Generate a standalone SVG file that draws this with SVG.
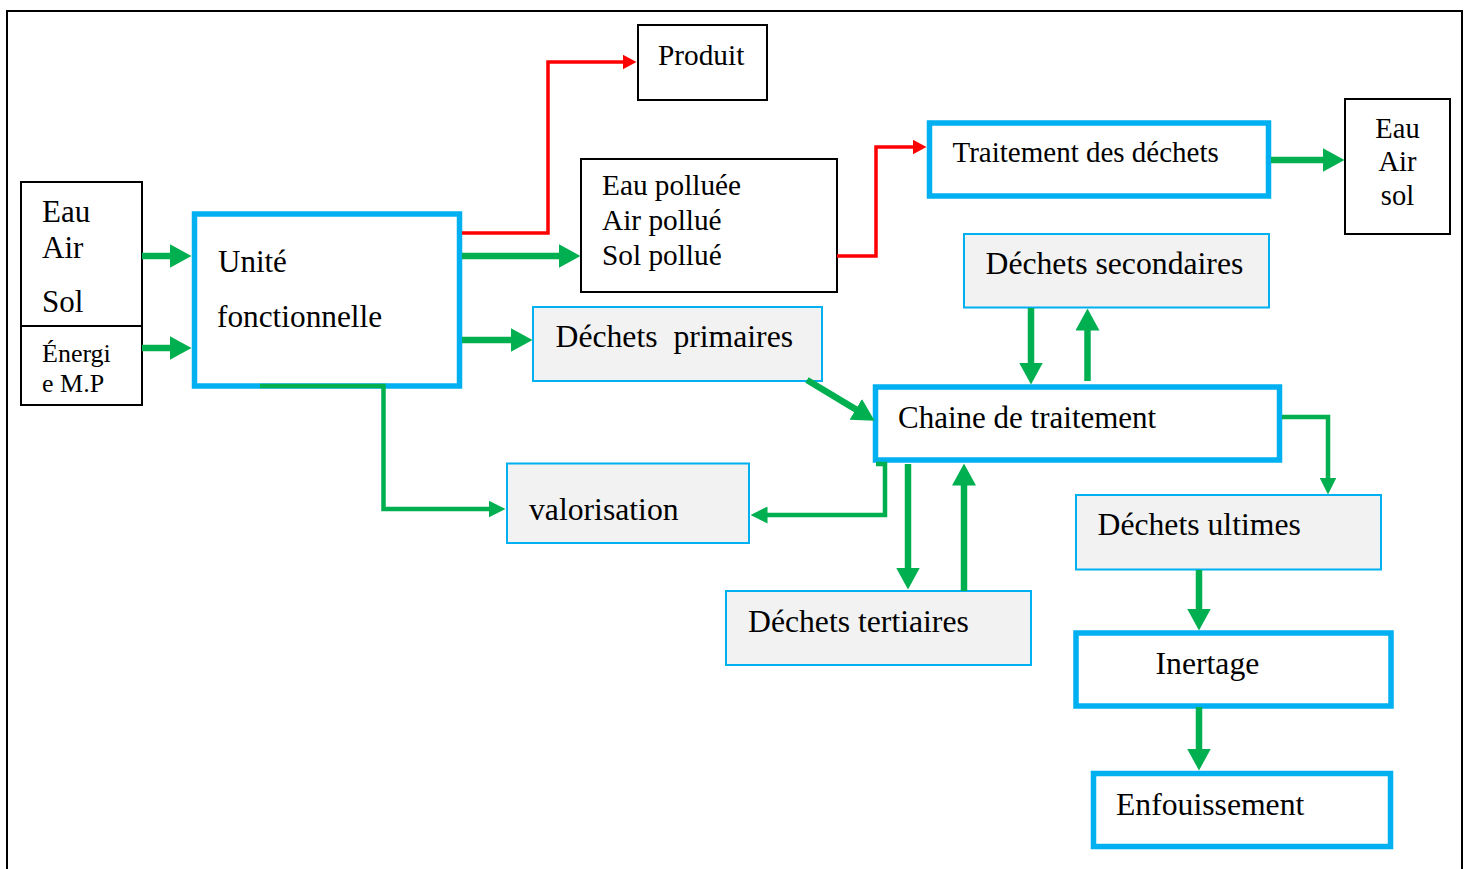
<svg xmlns="http://www.w3.org/2000/svg" width="1470" height="869" viewBox="0 0 1470 869">
  <style>
    text { font-family: "Liberation Serif", "Times New Roman", serif; fill: #000; }
    .t31 { font-size: 31.7px; }
    .t29 { font-size: 29.3px; }
    .t28 { font-size: 29px; }
    .box-black { fill: #fff; stroke: #000; stroke-width: 2; }
    .box-main { fill: #fff; stroke: #00B0F0; stroke-width: 5.5; }
    .box-grey { fill: #F2F2F2; stroke: #00B0F0; stroke-width: 2; }
    .flow { fill: none; stroke: #00B050; stroke-width: 6.5; }
    .flow-thin { fill: none; stroke: #00B050; stroke-width: 4.5; }
    .flow-red { fill: none; stroke: #FF0000; stroke-width: 3.5; }
  </style>
  <defs>
    <marker id="ah-green" viewBox="0 0 22 24" markerWidth="22" markerHeight="24" refX="0.5" refY="12" orient="auto" markerUnits="userSpaceOnUse">
      <path d="M0,0 L22,12 L0,24 Z" fill="#00B050"/>
    </marker>
    <marker id="ah-green-small" viewBox="0 0 17 17" markerWidth="17" markerHeight="17" refX="0.5" refY="8.5" orient="auto" markerUnits="userSpaceOnUse">
      <path d="M0,0 L17,8.5 L0,17 Z" fill="#00B050"/>
    </marker>
    <marker id="ah-red" viewBox="0 0 14 15" markerWidth="14" markerHeight="15" refX="0.5" refY="7.5" orient="auto" markerUnits="userSpaceOnUse">
      <path d="M0,0 L14,7.5 L0,15 Z" fill="#FF0000"/>
    </marker>
  </defs>

  <rect width="1470" height="869" fill="#fff"/>
  <!-- page frame (open at the bottom) -->
  <path d="M7 880 V11 H1462 V880" fill="none" stroke="#000" stroke-width="2"/>

  <!-- nodes -->
  <g id="node-ressources">
    <rect class="box-black" x="21" y="182" width="121" height="144"/>
    <text x="42" y="222" font-size="31">Eau</text>
    <text x="42" y="258" font-size="31">Air</text>
    <text x="42" y="311.5" font-size="31">Sol</text>
  </g>
  <g id="node-energie">
    <rect class="box-black" x="21" y="326" width="121" height="79"/>
    <text x="42" y="362" font-size="26">Énergi</text>
    <text x="42" y="392" font-size="26">e M.P</text>
  </g>
  <g id="node-unite">
    <rect class="box-main" x="194.5" y="214" width="265" height="172"/>
    <text x="218" y="271.5" font-size="31">Unité</text>
    <text x="217" y="327" font-size="31.3">fonctionnelle</text>
  </g>
  <g id="node-produit">
    <rect class="box-black" x="638" y="25" width="129" height="75"/>
    <text class="t29" x="658" y="65">Produit</text>
  </g>
  <g id="node-pollution">
    <rect class="box-black" x="581" y="159" width="256" height="133"/>
    <text class="t29" x="602" y="195">Eau polluée</text>
    <text class="t29" x="602" y="229.5">Air pollué</text>
    <text class="t29" x="602" y="264.5">Sol pollué</text>
  </g>
  <g id="node-traitement-dechets">
    <rect class="box-main" x="929.5" y="123" width="339" height="73" stroke-width="5"/>
    <text class="t28" x="952.5" y="161.5">Traitement des déchets</text>
  </g>
  <g id="node-milieux">
    <rect class="box-black" x="1345" y="99" width="105" height="135"/>
    <text x="1397.5" y="137.5" font-size="28.5" text-anchor="middle">Eau</text>
    <text x="1397.5" y="171" font-size="28.5" text-anchor="middle">Air</text>
    <text x="1397.5" y="205" font-size="28.5" text-anchor="middle">sol</text>
  </g>
  <g id="node-secondaires">
    <rect class="box-grey" x="964" y="234" width="305" height="73.5"/>
    <text class="t31" x="985.5" y="273.5">Déchets secondaires</text>
  </g>
  <g id="node-primaires">
    <rect class="box-grey" x="533" y="307" width="289" height="74"/>
    <text class="t31" x="555.5" y="347" xml:space="preserve">Déchets  primaires</text>
  </g>
  <g id="node-chaine">
    <rect class="box-main" x="875.5" y="387" width="404" height="73" stroke-width="5"/>
    <text x="898" y="427.5" font-size="31">Chaine de traitement</text>
  </g>
  <g id="node-valorisation">
    <rect class="box-grey" x="507" y="463.5" width="242" height="79.5"/>
    <text class="t31" x="529" y="520">valorisation</text>
  </g>
  <g id="node-tertiaires">
    <rect class="box-grey" x="726" y="591" width="305" height="74"/>
    <text class="t31" x="748" y="631.5">Déchets tertiaires</text>
  </g>
  <g id="node-ultimes">
    <rect class="box-grey" x="1076" y="495" width="305" height="74.5"/>
    <text class="t31" x="1097.5" y="535">Déchets ultimes</text>
  </g>
  <g id="node-inertage">
    <rect class="box-main" x="1076" y="633" width="315" height="73" stroke-width="5"/>
    <text class="t31" x="1155.5" y="674">Inertage</text>
  </g>
  <g id="node-enfouissement">
    <rect class="box-main" x="1093.5" y="773.5" width="297" height="73" stroke-width="5"/>
    <text class="t31" x="1116" y="815">Enfouissement</text>
  </g>

  <!-- connectors -->
  <g id="connectors">
    <path class="flow" d="M142 256 H170" marker-end="url(#ah-green)"/>
    <path class="flow" d="M142 348 H170" marker-end="url(#ah-green)"/>
    <path class="flow" d="M462 256 H559" marker-end="url(#ah-green)"/>
    <path class="flow" d="M462 340 H511" marker-end="url(#ah-green)"/>
    <path class="flow-red" d="M462 233 H548 V62 H623" marker-end="url(#ah-red)"/>
    <path class="flow-red" d="M837 256 H876 V147 H913" marker-end="url(#ah-red)"/>
    <path class="flow" d="M1271 160 H1323" marker-end="url(#ah-green)"/>
    <path class="flow-thin" d="M260 386 H383.5 V509 H489" marker-end="url(#ah-green-small)"/>
    <path class="flow" d="M807 380 L856.2 409.6" marker-end="url(#ah-green)"/>
    <path class="flow" d="M1031 308 V363" marker-end="url(#ah-green)"/>
    <path class="flow" d="M1087.5 381 V330" marker-end="url(#ah-green)"/>
    <path class="flow-thin" d="M876 464 H885 V515 H767" marker-end="url(#ah-green-small)"/>
    <path class="flow" d="M908 464 V568" marker-end="url(#ah-green)"/>
    <path class="flow" d="M964 591 V485" marker-end="url(#ah-green)"/>
    <path class="flow-thin" d="M1282 417 H1328 V478" marker-end="url(#ah-green-small)"/>
    <path class="flow" d="M1199 570 V609" marker-end="url(#ah-green)"/>
    <path class="flow" d="M1199 707 V749" marker-end="url(#ah-green)"/>
  </g>
</svg>
